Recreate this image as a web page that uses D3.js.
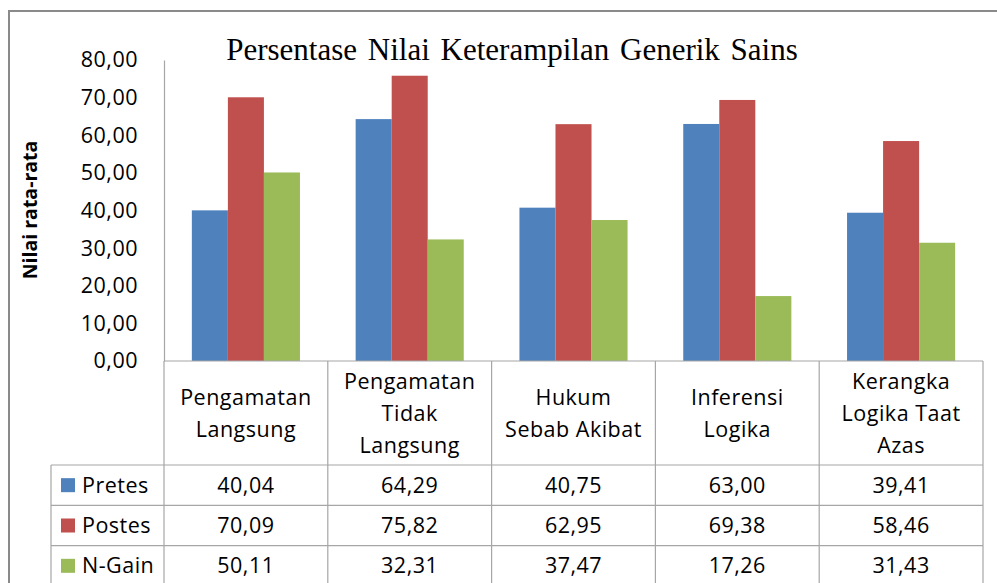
<!DOCTYPE html>
<html>
<head>
<meta charset="utf-8">
<script src="https://cdn.jsdelivr.net/npm/d3@7"></script>
<style>
  body { margin: 0; background: #fff; }
  svg { display: block; }
  text { font-family: "Open Sans", sans-serif; fill: #000; }
</style>
</head>
<body>
<svg id="chart"></svg>
<script>
// data
const categories = ["Pengamatan Langsung", "Pengamatan Tidak Langsung", "Hukum Sebab Akibat", "Inferensi Logika", "Kerangka Logika Taat Azas"];
const categoryLines = [["Pengamatan", "Langsung"], ["Pengamatan", "Tidak", "Langsung"], ["Hukum", "Sebab Akibat"], ["Inferensi", "Logika"], ["Kerangka", "Logika Taat", "Azas"]];
const seriesNames = ["Pretes", "Postes", "N-Gain"];
const pretes = [40.04, 64.29, 40.75, 63.00, 39.41];
const postes = [70.09, 75.82, 62.95, 69.38, 58.46];
const nGain = [50.11, 32.31, 37.47, 17.26, 31.43];
const yTicks = [0, 10, 20, 30, 40, 50, 60, 70, 80];
const colors = ["#4F81BD", "#C0504D", "#9BBB59"];

const values = [pretes, postes, nGain];

const width = 997, height = 583;
const svg = d3.select("#chart").attr("width", width).attr("height", height);

const locale = d3.formatLocale({ decimal: ",", thousands: ".", grouping: [3], currency: ["", ""] });
const fmt = locale.format(".2f");

const fs = "21.5px";
const ls = "0.5px";

// outer frame (runs off the right and bottom edge)
svg.append("rect")
  .attr("x", 9).attr("y", 11)
  .attr("width", 1100).attr("height", 700)
  .attr("fill", "none")
  .attr("stroke", "#8a8a8a")
  .attr("stroke-width", 2);

const x = d3.scaleBand().domain(categories).range([164, 983]);
const xSub = d3.scaleBand().domain(seriesNames)
  .range([x.bandwidth() * 0.17, x.bandwidth() * 0.83]);
const y = d3.scaleLinear().domain([0, 80]).range([361, 60]);

// bars
const groups = svg.append("g").selectAll("g")
  .data(categories)
  .join("g")
  .attr("transform", d => `translate(${x(d)},0)`);

groups.selectAll("rect")
  .data((d, i) => seriesNames.map((s, j) => ({ s, v: values[j][i], c: colors[j] })))
  .join("rect")
  .attr("x", d => xSub(d.s))
  .attr("width", xSub.bandwidth())
  .attr("y", d => y(d.v))
  .attr("height", d => y(0) - y(d.v))
  .attr("fill", d => d.c);

// y axis
const yAxis = svg.append("g")
  .attr("transform", "translate(164,0)")
  .call(d3.axisLeft(y).tickValues(yTicks).tickFormat(fmt).tickSize(0).tickPadding(26));
yAxis.select(".domain").attr("stroke", "#a6a6a6").attr("stroke-width", 1.2);
yAxis.selectAll("text")
  .style("font-family", "'Open Sans', sans-serif")
  .style("font-size", fs)
  .style("letter-spacing", ls)
  .attr("fill", "#000");

svg.append("text")
  .attr("transform", "translate(37,210) rotate(-90)")
  .attr("text-anchor", "middle")
  .style("font-size", "19.5px")
  .style("font-weight", "bold")
  .text("Nilai rata-rata");

// title
svg.append("text")
  .attr("x", 512).attr("y", 60)
  .attr("text-anchor", "middle")
  .style("font-family", "'Liberation Serif', 'Times New Roman', serif")
  .style("font-size", "31px")
  .style("word-spacing", "3px")
  .text("Persentase Nilai Keterampilan Generik Sains");

// data table
const lineColor = "#a6a6a6";
const tableTop = 361, headerBottom = 465, tableBottom = 586;
const rows = d3.scaleBand().domain(seriesNames).range([headerBottom, tableBottom]);
const tbl = svg.append("g").attr("stroke", lineColor).attr("stroke-width", 1.2);

tbl.append("line").attr("x1", 164).attr("x2", 983).attr("y1", tableTop).attr("y2", tableTop);
seriesNames.forEach(s => {
  tbl.append("line").attr("x1", 51).attr("x2", 983).attr("y1", rows(s)).attr("y2", rows(s));
});
tbl.append("line").attr("x1", 51).attr("x2", 983).attr("y1", tableBottom).attr("y2", tableBottom);
tbl.append("line").attr("x1", 51).attr("x2", 51).attr("y1", headerBottom).attr("y2", tableBottom);
tbl.append("line").attr("x1", 164).attr("x2", 164).attr("y1", tableTop).attr("y2", tableBottom);
categories.forEach(c => {
  const xe = x(c) + x.bandwidth();
  tbl.append("line").attr("x1", xe).attr("x2", xe).attr("y1", tableTop).attr("y2", tableBottom);
});

// category headers
const lineH = 32;
categories.forEach((c, i) => {
  const lines = categoryLines[i];
  const cy = (tableTop + headerBottom) / 2;
  const t = svg.append("text")
    .attr("text-anchor", "middle")
    .style("font-size", fs)
    .style("letter-spacing", ls);
  lines.forEach((ln, k) => {
    t.append("tspan")
      .attr("x", x(c) + x.bandwidth() / 2)
      .attr("y", cy + (k - (lines.length - 1) / 2) * lineH)
      .attr("dy", "0.35em")
      .text(ln);
  });
});

// legend cells and values
seriesNames.forEach((s, j) => {
  const cy = rows(s) + rows.bandwidth() / 2;
  svg.append("rect")
    .attr("x", 61).attr("y", cy - 7)
    .attr("width", 14).attr("height", 14)
    .attr("fill", colors[j]);
  svg.append("text")
    .attr("x", 82).attr("y", cy).attr("dy", "0.35em")
    .style("font-size", fs)
    .style("letter-spacing", ls)
    .text(s);
  categories.forEach((c, i) => {
    svg.append("text")
      .attr("x", x(c) + x.bandwidth() / 2)
      .attr("y", cy).attr("dy", "0.35em")
      .attr("text-anchor", "middle")
      .style("font-size", fs)
      .style("letter-spacing", ls)
      .text(fmt(values[j][i]));
  });
});
</script>
</body>
</html>
